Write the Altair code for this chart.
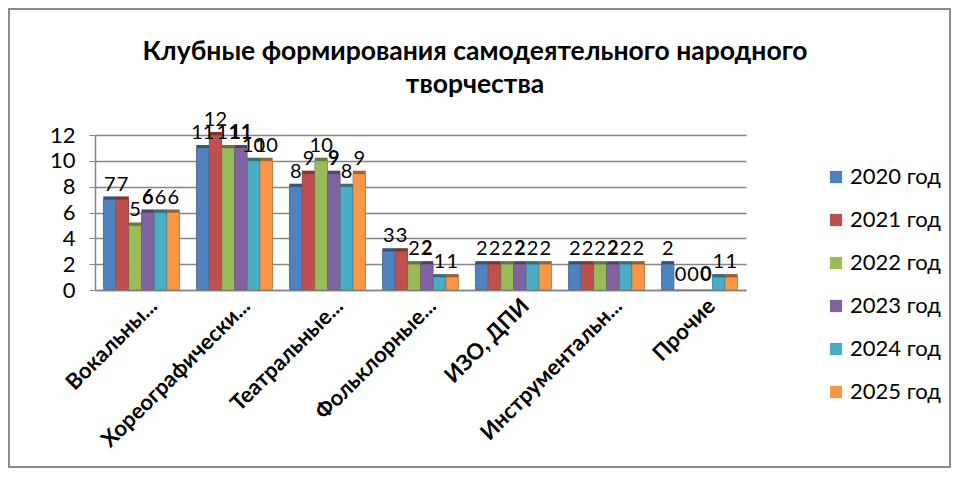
import altair as alt
import pandas as pd

categories = ["Вокальны...", "Хореографически...", "Театральные...", "Фольклорные...",
              "ИЗО, ДПИ", "Инструментальн...", "Прочие"]
years = ["2020 год", "2021 год", "2022 год", "2023 год", "2024 год", "2025 год"]
v2020 = [7, 11, 8, 3, 2, 2, 2]
v2021 = [7, 12, 9, 3, 2, 2, 0]
v2022 = [5, 11, 10, 2, 2, 2, 0]
v2023 = [6, 11, 9, 2, 2, 2, 0]
v2024 = [6, 10, 8, 1, 2, 2, 1]
v2025 = [6, 10, 9, 1, 2, 2, 1]
colors = ["#4F81BD", "#C0504D", "#9BBB59", "#8064A2", "#4BACC6", "#F79646"]
title_lines = ["Клубные формирования  самодеятельного народного", "творчества"]

series = [v2020, v2021, v2022, v2023, v2024, v2025]
rows = []
for y, vals in zip(years, series):
    for c, v in zip(categories, vals):
        rows.append({"cat": c, "year": y, "value": v})
df = pd.DataFrame(rows)

FONT = "Lato"
GRID = "#868686"

x_enc = alt.X("cat:N", sort=categories,
              scale=alt.Scale(paddingInner=0.18, paddingOuter=0.09),
              axis=alt.Axis(title=None, labelAngle=315, labelFontSize=22, labelFont=FONT,
                            labelFontWeight="bold", labelColor="black", ticks=False,
                            domainColor=GRID, domainWidth=1.5, labelPadding=12,
                            labelOffset=12,
                            labelAlign="right", labelBaseline="middle", labelLimit=300))
xo = alt.XOffset("year:N", sort=years)
y_enc = alt.Y("value:Q", scale=alt.Scale(domain=[0, 12]),
              axis=alt.Axis(title=None, values=[0, 2, 4, 6, 8, 10, 12], grid=True,
                            labelOverlap=False, tickCount=7,
                            gridColor=GRID, gridWidth=1.5, domainColor=GRID, domainWidth=1.5,
                            tickColor=GRID, tickSize=6, labelFontSize=22, labelFont=FONT,
                            labelColor="black", labelPadding=14))
color_enc = alt.Color("year:N", sort=years, scale=alt.Scale(domain=years, range=colors),
                      legend=alt.Legend(title=None, orient="none", legendX=730, legendY=31,
                                        symbolType="square", symbolSize=150,
                                        symbolStrokeWidth=0,
                                        labelFontSize=22, labelFont=FONT, labelColor="black",
                                        rowPadding=21, labelOffset=3, padding=0))

base = alt.Chart(df)

# depth (3D side) of each bar
side = base.mark_bar(xOffset=3, yOffset=-3).encode(
    x=x_enc, xOffset=xo, y=y_enc, color=color_enc)
side_shade = base.mark_bar(xOffset=3, yOffset=-3, color="black", opacity=0.35).encode(
    x=alt.X("cat:N", sort=categories), xOffset=xo, y="value:Q")

bars = base.mark_bar(stroke="#4a4a4a", strokeWidth=0.3).encode(
    x=alt.X("cat:N", sort=categories), xOffset=xo, y="value:Q", color=color_enc)

labels = base.transform_filter(alt.datum.year != "2023 год").mark_text(
    dy=-15, fontSize=20, font=FONT, color="black").encode(
    x=alt.X("cat:N", sort=categories), xOffset=xo, y="value:Q", text="value:Q")

labels_bold = base.transform_filter(alt.datum.year == "2023 год").mark_text(
    dy=-15, fontSize=20, font=FONT, fontWeight="bold", color="black").encode(
    x=alt.X("cat:N", sort=categories), xOffset=xo, y="value:Q", text="value:Q")

one = pd.DataFrame({"k": [0]})
title1 = alt.Chart(one).mark_text(text=title_lines[0], fontSize=26.5, font=FONT,
                                  fontWeight="bold", color="black", baseline="alphabetic").encode(
    x=alt.value(380), y=alt.value(-75))
title2 = alt.Chart(one).mark_text(text=title_lines[1], fontSize=26.5, font=FONT,
                                  fontWeight="bold", color="black", baseline="alphabetic").encode(
    x=alt.value(380), y=alt.value(-42))

border = alt.Chart(one).mark_rect(
    fillOpacity=0, stroke="#8c8c8c", strokeWidth=2).encode(
    x=alt.value(-86), x2=alt.value(855), y=alt.value(-126), y2=alt.value(332))

chart = alt.layer(side, side_shade, bars, labels, labels_bold, title1, title2, border).properties(
    width=651, height=155,
    padding={"left": 87, "top": 127, "right": 206, "bottom": 180},
    autosize=alt.AutoSizeParams(type="none"),
).configure_view(stroke="transparent").configure_axis(labelFont=FONT)

chart.save("out.html", embed_options={"renderer": "svg", "actions": False})
